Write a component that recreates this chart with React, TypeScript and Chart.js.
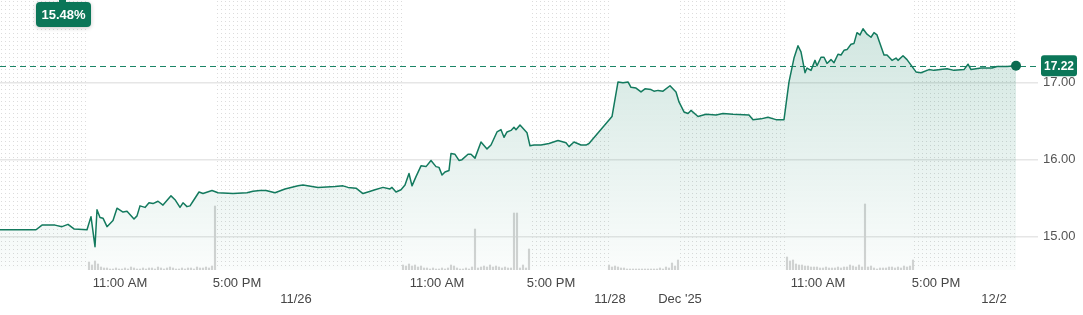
import React, { useEffect, useRef } from "react";
import { Chart, registerables } from "chart.js";

Chart.register(...registerables);

// [time slot on the compressed session axis, price]
const pricePoints: [number, number][] = [
  [0, 15.09], [36, 15.09], [42, 15.15], [55, 15.15], [62, 15.13], [68, 15.16], [74, 15.1], [87, 15.09],
  [91, 15.26], [95, 14.87], [97, 15.35], [100, 15.25], [103, 15.24], [107, 15.13], [113, 15.21], [117, 15.37],
  [123, 15.32], [127, 15.33], [134, 15.23], [137, 15.27], [140, 15.4], [145, 15.38], [149, 15.44], [153, 15.43],
  [158, 15.46], [163, 15.41], [171, 15.53], [175, 15.48], [180, 15.38], [183, 15.44], [187, 15.39], [190, 15.4],
  [193, 15.46], [199, 15.58], [203, 15.56], [212, 15.6], [218, 15.57], [233, 15.56], [247, 15.57], [253, 15.59],
  [260, 15.6], [266, 15.6], [275, 15.57], [285, 15.62], [298, 15.66], [303, 15.67], [318, 15.64], [335, 15.65],
  [343, 15.66], [348, 15.64], [356, 15.63], [363, 15.56], [368, 15.58], [375, 15.61], [383, 15.64], [390, 15.62],
  [392, 15.64], [396, 15.58], [401, 15.61], [405, 15.67], [409, 15.82], [412, 15.66], [416, 15.78], [421, 15.92],
  [426, 15.91], [431, 15.99], [436, 15.91], [439, 15.9], [442, 15.8], [445, 15.84], [449, 15.86], [451, 16.08],
  [455, 16.07], [459, 15.99], [462, 16.0], [468, 16.07], [471, 16.07], [475, 16.02], [481, 16.23], [487, 16.14],
  [491, 16.19], [497, 16.36], [501, 16.39], [504, 16.29], [507, 16.36], [511, 16.38], [514, 16.42], [516, 16.39],
  [520, 16.45], [527, 16.35], [530, 16.18], [534, 16.19], [541, 16.19], [549, 16.21], [558, 16.25], [566, 16.22],
  [569, 16.17], [574, 16.23], [581, 16.19], [586, 16.19], [589, 16.21], [612, 16.56], [618, 17.01], [623, 17.0],
  [628, 17.01], [631, 16.94], [636, 16.93], [641, 16.88], [645, 16.92], [651, 16.91], [654, 16.89], [658, 16.9],
  [663, 16.89], [670, 16.96], [676, 16.88], [679, 16.75], [684, 16.62], [688, 16.6], [691, 16.64], [698, 16.56],
  [706, 16.59], [716, 16.58], [723, 16.6], [733, 16.59], [749, 16.58], [753, 16.52], [761, 16.53], [768, 16.55],
  [776, 16.52], [784, 16.52], [789, 17.01], [794, 17.32], [798, 17.48], [801, 17.4], [805, 17.13], [807, 17.19],
  [811, 17.16], [815, 17.29], [817, 17.22], [821, 17.33], [824, 17.33], [827, 17.25], [831, 17.3], [834, 17.26],
  [838, 17.37], [841, 17.36], [844, 17.42], [847, 17.43], [851, 17.5], [854, 17.51], [857, 17.65], [860, 17.62],
  [863, 17.7], [867, 17.63], [871, 17.59], [874, 17.65], [877, 17.62], [884, 17.36], [887, 17.36], [892, 17.29],
  [896, 17.32], [898, 17.29], [903, 17.35], [907, 17.3], [916, 17.14], [921, 17.13], [929, 17.17], [934, 17.16],
  [947, 17.18], [954, 17.16], [964, 17.17], [968, 17.24], [971, 17.17], [981, 17.19], [992, 17.19], [997, 17.21],
  [1007, 17.21], [1016, 17.22],
];

const lastPrice = 17.22;
const changeLabel = "15.48%";

const yTickValues = [15, 16, 17];

const timeTickT = [120, 237, 437, 551, 818, 936];
const timeTickLabels = ["11:00 AM", "5:00 PM", "11:00 AM", "5:00 PM", "11:00 AM", "5:00 PM"];
const dateTickT = [296, 610, 680, 994];
const dateTickLabels = ["11/26", "11/28", "Dec '25", "12/2"];

// extended-hours spans (pre/post market) in time slots
const extendedHours: [number, number][] = [
  [0, 88], [216, 403], [531, 609], [679, 787], [913, 1016],
];

// volume (10k shares), one bar every volStep slots from each session open
const volSessionStart = [89, 403, 609, 787];
const volStep = 3;
const volDay1 = [8, 5, 9, 6, 3, 2, 2, 1, 1, 2, 1, 1, 2, 1, 3, 2, 1, 1, 2, 1, 2, 2, 1, 3, 2, 1, 2, 3, 2, 1, 1, 2, 1, 2, 2, 1, 3, 2, 2, 3, 2, 4, 64];
const volDay2 = [5, 4, 6, 4, 5, 3, 4, 2, 2, 1, 2, 1, 1, 2, 1, 2, 5, 4, 2, 1, 1, 2, 1, 3, 41, 2, 3, 4, 3, 5, 3, 4, 3, 2, 3, 2, 2, 57, 57, 2, 5, 2, 21];
const volDay3 = [5, 3, 4, 3, 2, 2, 1, 1, 1, 1, 1, 1, 1, 1, 1, 1, 1, 2, 1, 3, 2, 7, 4, 10];
const volDay4 = [13, 9, 10, 6, 5, 5, 4, 4, 3, 3, 3, 2, 2, 3, 2, 2, 2, 3, 2, 3, 3, 5, 4, 3, 5, 3, 66, 3, 4, 2, 1, 2, 2, 2, 3, 3, 2, 3, 2, 4, 3, 4, 10];
const volSessions = [volDay1, volDay2, volDay3, volDay4];

const GREEN = "#137a5e";
const BADGE = "#0b7658";
const FONT = "'Liberation Sans', Arial, sans-serif";

export default function App() {
  const ref = useRef<HTMLCanvasElement | null>(null);

  useEffect(() => {
    if (!ref.current) return;

    const volumeData = volSessions.flatMap((arr, si) =>
      arr.map((v, i) => ({ x: volSessionStart[si] + i * volStep, y: v }))
    );
    const lineData = pricePoints.map(([t, p]) => ({ x: t, y: p }));

    const dotsPlugin = {
      id: "sessionDots",
      beforeDraw(chart: any) {
        const { ctx, chartArea, scales } = chart;
        const xs = scales.x;
        ctx.save();
        ctx.fillStyle = "#dcdcdc";
        for (const [a, b] of extendedHours) {
          const x0 = Math.round(xs.getPixelForValue(a));
          const x1 = Math.round(xs.getPixelForValue(b));
          for (let px = x0 + 1; px < x1; px += 4) {
            for (let py = chartArea.top + 1; py < chartArea.bottom - 2; py += 4) {
              ctx.fillRect(px, py, 1, 1);
            }
          }
        }
        ctx.restore();
      },
    };

    const priceLinePlugin = {
      id: "priceLine",
      beforeDatasetsDraw(chart: any) {
        const { ctx, chartArea, scales } = chart;
        const y = Math.round(scales.y.getPixelForValue(lastPrice)) + 0.5;
        ctx.save();
        ctx.strokeStyle = "#1a8567";
        ctx.lineWidth = 1;
        ctx.setLineDash([6, 4]);
        ctx.beginPath();
        ctx.moveTo(chartArea.left, y);
        ctx.lineTo(chartArea.right + 2, y);
        ctx.stroke();
        ctx.restore();
      },
      afterDraw(chart: any) {
        const { ctx, chartArea, scales } = chart;
        const y = scales.y.getPixelForValue(lastPrice);
        ctx.save();
        // price box on the right
        const bx = chartArea.right + 3;
        const bw = 36;
        const bh = 21;
        ctx.fillStyle = BADGE;
        ctx.beginPath();
        ctx.roundRect(bx, y - bh / 2, bw, bh, 3);
        ctx.fill();
        ctx.fillStyle = "#ffffff";
        ctx.font = `bold 12px ${FONT}`;
        ctx.textAlign = "center";
        ctx.textBaseline = "middle";
        ctx.fillText(lastPrice.toFixed(2), bx + bw / 2, y + 0.5);

        // change badge top-left
        ctx.shadowColor = "rgba(0,0,0,0.22)";
        ctx.shadowBlur = 4;
        ctx.shadowOffsetY = 1;
        ctx.fillStyle = BADGE;
        ctx.beginPath();
        ctx.roundRect(36, 2, 55, 25, 4);
        ctx.fill();
        ctx.shadowColor = "transparent";
        ctx.fillRect(59, 0, 7, 2);
        ctx.fillStyle = "#ffffff";
        ctx.font = `bold 13px ${FONT}`;
        ctx.fillText(changeLabel, 63.5, 15);
        ctx.restore();
      },
    };

    const chart = new Chart(ref.current, {
      type: "line",
      data: {
        datasets: [
          {
            type: "line",
            data: lineData,
            yAxisID: "y",
            order: 0,
            borderColor: GREEN,
            borderWidth: 1.5,
            tension: 0,
            borderJoinStyle: "round",
            fill: "start",
            backgroundColor: (c: any) => {
              const { chart } = c;
              const area = chart.chartArea;
              if (!area) return "rgba(20,128,98,0.1)";
              const g = chart.ctx.createLinearGradient(0, area.top + 20, 0, area.bottom);
              g.addColorStop(0, "rgba(20,128,98,0.20)");
              g.addColorStop(1, "rgba(20,128,98,0.02)");
              return g;
            },
            pointRadius: (c: any) => (c.dataIndex === lineData.length - 1 ? 5 : 0),
            pointBackgroundColor: "#0b6b50",
            pointBorderWidth: 0,
            pointHoverRadius: 0,
            clip: false,
          } as any,
          {
            type: "bar",
            data: volumeData,
            yAxisID: "vol",
            order: 1,
            backgroundColor: "#d4d4d4",
            barThickness: 1.5,
            grouped: false,
          } as any,
        ],
      },
      options: {
        responsive: false,
        animation: false,
        events: [],
        layout: { padding: 0, autoPadding: false },
        plugins: {
          legend: { display: false },
          tooltip: { enabled: false },
        },
        scales: {
          x: {
            type: "linear",
            min: 0,
            max: 1038,
            offset: false,
            grid: { display: false, drawTicks: false },
            border: { display: false },
            afterBuildTicks: (scale: any) => {
              const vals = [...timeTickT, ...dateTickT].sort((a, b) => a - b);
              scale.ticks = vals.map((v) => ({ value: v }));
            },
            afterFit: (scale: any) => {
              scale.height = 45;
              scale.paddingLeft = 0;
              scale.paddingRight = 0;
            },
            ticks: {
              autoSkip: false,
              maxRotation: 0,
              minRotation: 0,
              padding: 5,
              color: "#464646",
              font: { family: FONT, size: 13, lineHeight: 1.27 },
              callback: (value: any) => {
                const ti = timeTickT.indexOf(value);
                if (ti >= 0) return [timeTickLabels[ti]];
                const di = dateTickT.indexOf(value);
                if (di >= 0) return ["", dateTickLabels[di]];
                return "";
              },
            },
          },
          y: {
            type: "linear",
            position: "right",
            min: 14.567,
            max: 18.074,
            afterBuildTicks: (scale: any) => {
              scale.ticks = yTickValues.map((v) => ({ value: v }));
            },
            afterFit: (scale: any) => {
              scale.width = 45;
              scale.paddingTop = 0;
              scale.paddingBottom = 0;
            },
            grid: { color: "#e6e6e6", lineWidth: 1.5, drawTicks: false },
            border: { display: false },
            ticks: {
              padding: 5,
              color: "#555555",
              font: { family: FONT, size: 13 },
              callback: (v: any) => Number(v).toFixed(2),
            },
          },
          vol: {
            type: "linear",
            display: false,
            min: 0,
            max: 270,
          },
        },
      } as any,
      plugins: [dotsPlugin, priceLinePlugin],
    });

    return () => chart.destroy();
  }, []);

  return (
    <div style={{ position: "absolute", left: 0, top: 0, width: 1083, height: 315, background: "#fff" }}>
      <canvas ref={ref} width={1083} height={315} style={{ width: 1083, height: 315, display: "block" }} />
    </div>
  );
}
